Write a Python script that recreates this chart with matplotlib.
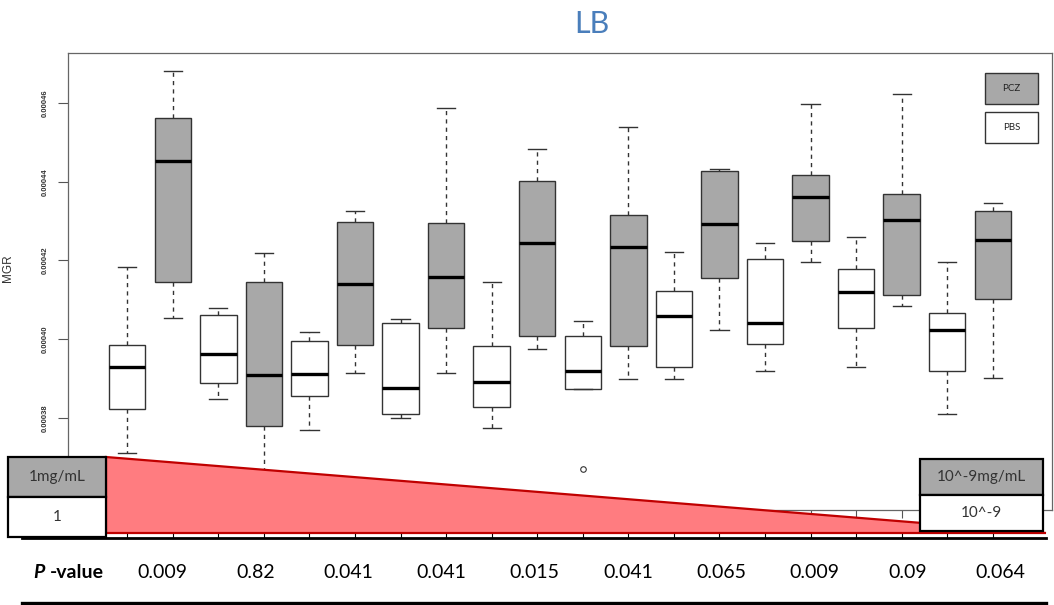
import matplotlib
matplotlib.use("Agg")
import matplotlib.pyplot as plt
from matplotlib.patches import Rectangle, Polygon
from matplotlib.lines import Line2D
import matplotlib.transforms as mtransforms

# MGR values in units of 1e-4
pbs_whishi = [4.183, 4.079, 4.019, 4.050, 4.144, 4.045, 4.222, 4.243, 4.259, 4.195]
pbs_q3 = [3.984, 4.061, 3.996, 4.041, 3.983, 4.007, 4.123, 4.204, 4.177, 4.066]
pbs_med = [3.930, 3.963, 3.912, 3.875, 3.891, 3.920, 4.059, 4.041, 4.119, 4.024]
pbs_q1 = [3.822, 3.888, 3.855, 3.810, 3.827, 3.874, 3.930, 3.987, 4.029, 3.920]
pbs_whislo = [3.710, 3.847, 3.770, 3.799, 3.775, 3.874, 3.899, 3.918, 3.930, 3.809]
pbs_fliers = [[], [], [], [], [], [3.670], [], [], [], []]

pcz_whishi = [4.680, 4.218, 4.326, 4.586, 4.484, 4.538, 4.433, 4.597, 4.622, 4.345]
pcz_q3 = [4.561, 4.144, 4.298, 4.296, 4.402, 4.316, 4.428, 4.416, 4.369, 4.326]
pcz_med = [4.453, 3.909, 4.141, 4.157, 4.243, 4.235, 4.292, 4.362, 4.303, 4.252]
pcz_q1 = [4.146, 3.780, 3.985, 4.027, 4.007, 3.983, 4.155, 4.249, 4.111, 4.101]
pcz_whislo = [4.053, 3.655, 3.914, 3.914, 3.974, 3.898, 4.024, 4.196, 4.083, 3.900]

p_values = ["0.009", "0.82", "0.041", "0.041", "0.015", "0.041", "0.065", "0.009", "0.09", "0.064"]
y_ticks = [3.8, 4.0, 4.2, 4.4, 4.6]
y_labels = ["0.00038", "0.00040", "0.00042", "0.00044", "0.00046"]

W, H = 1054, 605
def fx(x):
    return x / W
def fy(y):
    return 1 - y / H

GRAY = "#a8a8a8"
sc = 1e-4

fig = plt.figure(figsize=(W / 100, H / 100), dpi=100)
ax = fig.add_axes([fx(68), fy(510), (1052 - 68) / W, (510 - 53) / H])

# build stats for bxp, alternating PBS (white) / PCZ (gray)
stats, pos, colors = [], [], []
for i in range(10):
    stats.append(dict(whislo=pbs_whislo[i] * sc, q1=pbs_q1[i] * sc, med=pbs_med[i] * sc,
                      q3=pbs_q3[i] * sc, whishi=pbs_whishi[i] * sc,
                      fliers=[v * sc for v in pbs_fliers[i]]))
    pos.append(2 * i + 1)
    colors.append("white")
    stats.append(dict(whislo=pcz_whislo[i] * sc, q1=pcz_q1[i] * sc, med=pcz_med[i] * sc,
                      q3=pcz_q3[i] * sc, whishi=pcz_whishi[i] * sc, fliers=[]))
    pos.append(2 * i + 2)
    colors.append(GRAY)

bp = ax.bxp(stats, positions=pos, widths=0.8, patch_artist=True,
            boxprops=dict(edgecolor="#333333", linewidth=1.0),
            medianprops=dict(color="black", linewidth=2.4),
            whiskerprops=dict(color="#333333", linewidth=1.0, linestyle=(0, (3, 3))),
            capprops=dict(color="#333333", linewidth=1.0),
            flierprops=dict(marker="o", markersize=4, markerfacecolor="none",
                            markeredgecolor="#333333", markeredgewidth=0.8))
for patch, c in zip(bp["boxes"], colors):
    patch.set_facecolor(c)

ax.set_xlim(-0.3, 21.3)
ax.set_ylim(3.5658e-4, 4.7270e-4)
ax.set_xticks(range(1, 21))
ax.set_xticklabels([])
ax.set_yticks([v * sc for v in y_ticks])
ax.set_yticklabels(y_labels, rotation=90, va="center", fontsize=5.5, fontweight="bold",
                   color="#333333", family="Liberation Sans")
ax.tick_params(axis="y", length=7, width=0.8, color="#555555", pad=7)
ax.tick_params(axis="x", length=6, width=0.8, color="#555555", direction="out")
for s in ax.spines.values():
    s.set_color("#666666")
    s.set_linewidth(0.9)

fig.text(fx(8), fy(268), "MGR", rotation=90, ha="center", va="center", fontsize=8.5,
         color="#333333", family="Liberation Sans")
fig.text(fx(592), fy(24), "LB", ha="center", va="center", fontsize=22,
         color="#4a7ebb", family="Lato")

# legend boxes
for (y0, y1, fc, lab) in [(73, 104, GRAY, "PCZ"), (112, 143, "white", "PBS")]:
    fig.add_artist(Rectangle((fx(985), fy(y1)), (1038 - 985) / W, (y1 - y0) / H,
                             transform=fig.transFigure, facecolor=fc, edgecolor="#333333",
                             linewidth=1.0, zorder=5))
    fig.text(fx(1011.5), fy((y0 + y1) / 2), lab, ha="center", va="center", fontsize=7,
             family="Lato", color="#222222", zorder=6)

# concentration gradient triangle
tri = Polygon([(fx(106), fy(457)), (fx(106), fy(533)), (fx(1046), fy(533))],
              closed=True, transform=fig.transFigure, facecolor="#ff7c80",
              edgecolor="#c00000", linewidth=1.6, zorder=5)
fig.add_artist(tri)

def conc_box(x0, x1, y0, ym, y1, top, bottom):
    fig.add_artist(Rectangle((fx(x0), fy(ym)), (x1 - x0) / W, (ym - y0) / H,
                             transform=fig.transFigure, facecolor=GRAY, edgecolor="black",
                             linewidth=1.6, zorder=7))
    fig.add_artist(Rectangle((fx(x0), fy(y1)), (x1 - x0) / W, (y1 - ym) / H,
                             transform=fig.transFigure, facecolor="white", edgecolor="black",
                             linewidth=1.6, zorder=7))
    fig.text(fx((x0 + x1) / 2), fy((y0 + ym) / 2), top, ha="center", va="center",
             fontsize=11, family="Lato", color="#333333", zorder=8)
    fig.text(fx((x0 + x1) / 2), fy((ym + y1) / 2), bottom, ha="center", va="center",
             fontsize=11, family="Lato", color="#333333", zorder=8)

conc_box(8, 106, 457, 497, 537, "1mg/mL", "1")
conc_box(920, 1043, 459, 495, 531, "10^-9mg/mL", "10^-9")

# p-value table lines
fig.add_artist(Line2D([fx(22), fx(1046)], [fy(538), fy(538)], transform=fig.transFigure,
                      color="black", linewidth=2.0, zorder=6))
fig.add_artist(Line2D([fx(22), fx(1046)], [fy(603), fy(603)], transform=fig.transFigure,
                      color="black", linewidth=2.4, zorder=6))
blend = mtransforms.blended_transform_factory(ax.transData, fig.transFigure)
for p in pos:
    fig.add_artist(Line2D([p, p], [fy(538), fy(534)], transform=blend,
                          color="black", linewidth=0.8, zorder=6))

fig.text(fx(33), fy(572), "P", ha="left", va="center", fontsize=14, fontweight="bold",
         fontstyle="italic", family="Lato")
fig.text(fx(50), fy(572), "-value", ha="left", va="center", fontsize=14,
         fontweight="bold", family="Lato")
for i, p in enumerate(p_values):
    fig.text(fx(162 + 93.2 * i), fy(572), p, ha="center", va="center", fontsize=14,
             family="Lato", color="black")

fig.savefig("out.png", dpi=100)
